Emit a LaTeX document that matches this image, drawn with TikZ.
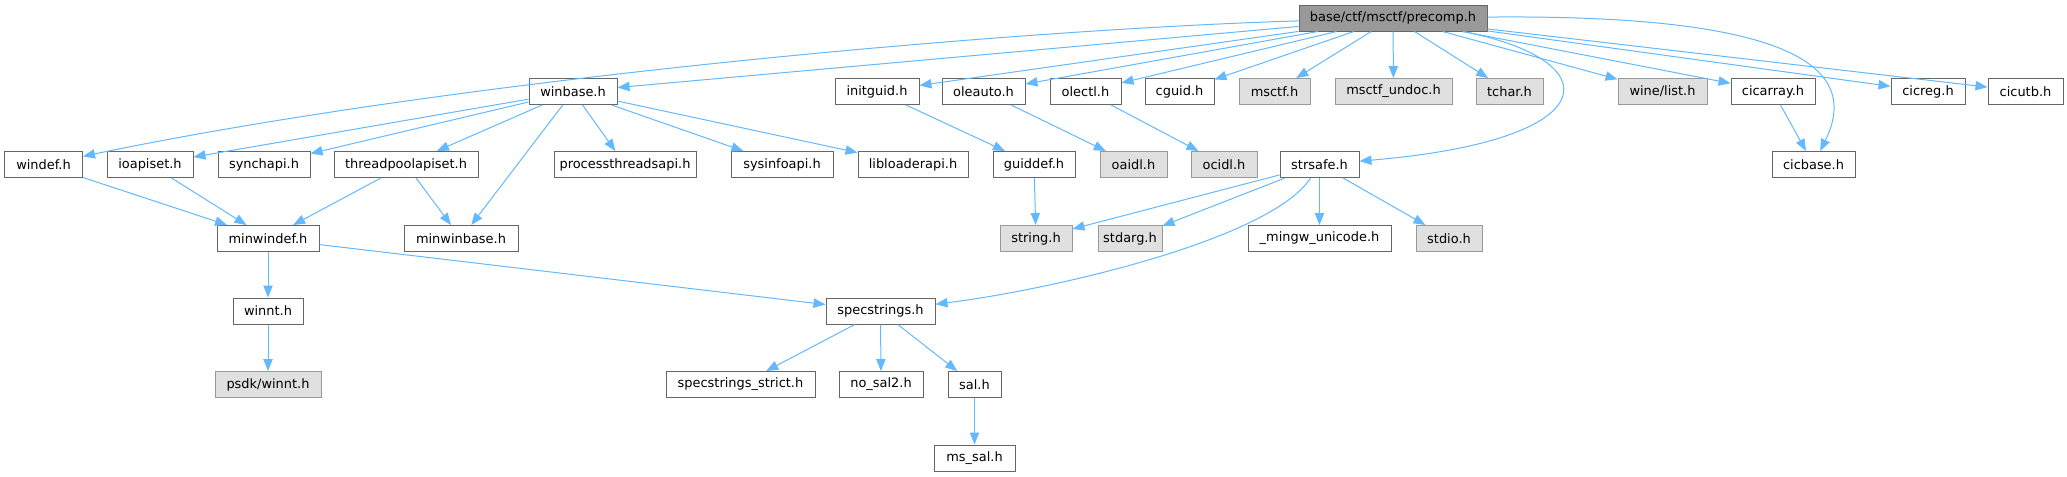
\documentclass[tikz,border=0pt]{standalone}
\usepackage{fontspec}
\setmainfont{DejaVu Sans}
\usepackage{tikz}
\usetikzlibrary{arrows.meta}

\definecolor{hborder}{HTML}{666666}
\definecolor{hextborder}{HTML}{999999}
\definecolor{hextfill}{HTML}{E0E0E0}
\definecolor{hrootfill}{HTML}{999999}
\definecolor{hedge}{HTML}{63B8FF}

\begin{document}
\begin{tikzpicture}[x=0.75pt, y=-0.75pt,
	hfile/.style={draw=hborder, fill=white, line width=0.75pt, minimum height=19.5pt, inner xsep=0pt, font=\fontsize{9.7}{11}\selectfont},
	hext/.style={hfile, draw=hextborder, fill=hextfill},
	hroot/.style={hfile, fill=hrootfill},
	dep/.style={draw=hedge, line width=0.75pt, -{Triangle[length=9pt,width=7pt]}}]
% Row heights (pixels of the reference)
\pgfmathsetmacro{\ya}{18}
\pgfmathsetmacro{\yb}{91.5}
\pgfmathsetmacro{\yc}{164.5}
\pgfmathsetmacro{\yd}{238.5}
\pgfmathsetmacro{\ye}{311}
\pgfmathsetmacro{\yf}{384.5}
\pgfmathsetmacro{\yg}{458}

\useasboundingbox (0,0) rectangle (2067,476);

% Root file
\node[hroot, minimum width=141pt] (root) at (1393,\ya) {base/ctf/msctf/precomp.h};

% Direct includes
\node[hfile, minimum width=66pt] (winbase) at (573,\yb) {winbase.h};
\node[hfile, minimum width=63pt] (initguid) at (877,\yb) {initguid.h};
\node[hfile, minimum width=62.25pt] (oleauto) at (983.5,\yb) {oleauto.h};
\node[hfile, minimum width=53.25pt] (olectl) at (1085.5,\yb) {olectl.h};
\node[hfile, minimum width=51.75pt] (cguid) at (1179.5,\yb) {cguid.h};
\node[hext, minimum width=53.25pt] (msctf) at (1274.5,\yb) {msctf.h};
\node[hext, minimum width=87.75pt] (msctfundoc) at (1393.5,\yb) {msctf\_undoc.h};
\node[hext, minimum width=50.25pt] (tchar) at (1509.5,\yb) {tchar.h};
\node[hext, minimum width=66.75pt] (winelist) at (1662.5,\yb) {wine/list.h};
\node[hfile, minimum width=63pt] (cicarray) at (1773,\yb) {cicarray.h};
\node[hfile, minimum width=55.5pt] (cicreg) at (1928,\yb) {cicreg.h};
\node[hfile, minimum width=56.25pt] (cicutb) at (2025.5,\yb) {cicutb.h};

% Second level
\node[hfile, minimum width=58.5pt] (windef) at (43.5,\yc) {windef.h};
\node[hfile, minimum width=64.5pt] (ioapiset) at (150,\yc) {ioapiset.h};
\node[hfile, minimum width=69pt] (synchapi) at (264,\yc) {synchapi.h};
\node[hfile, minimum width=108pt] (tpool) at (406,\yc) {threadpoolapiset.h};
\node[hfile, minimum width=106.5pt] (pthreads) at (625,\yc) {processthreadsapi.h};
\node[hfile, minimum width=76.5pt] (sysinfo) at (782,\yc) {sysinfoapi.h};
\node[hfile, minimum width=82.5pt] (libloader) at (913,\yc) {libloaderapi.h};
\node[hfile, minimum width=61.5pt] (guiddef) at (1034,\yc) {guiddef.h};
\node[hext, minimum width=50.25pt] (oaidl) at (1133.5,\yc) {oaidl.h};
\node[hext, minimum width=49.5pt] (ocidl) at (1224,\yc) {ocidl.h};
\node[hfile, minimum width=59.25pt] (strsafe) at (1319.5,\yc) {strsafe.h};
\node[hfile, minimum width=62.25pt] (cicbase) at (1813.5,\yc) {cicbase.h};

% Third level
\node[hfile, minimum width=76.5pt] (minwindef) at (268,\yd) {minwindef.h};
\node[hfile, minimum width=85.5pt] (minwinbase) at (461,\yd) {minwinbase.h};
\node[hext, minimum width=54pt] (stringh) at (1036,\yd) {string.h};
\node[hext, minimum width=48pt] (stdarg) at (1130,\yd) {stdarg.h};
\node[hfile, minimum width=107.25pt] (mingwuni) at (1319.5,\yd) {\_mingw\_unicode.h};
\node[hext, minimum width=49.5pt] (stdio) at (1449,\yd) {stdio.h};

% Lower levels
\node[hfile, minimum width=52.5pt] (winnt) at (268,\ye) {winnt.h};
\node[hfile, minimum width=81.75pt] (specstr) at (880.5,\ye) {specstrings.h};
\node[hext, minimum width=79.5pt] (psdkwinnt) at (268,\yf) {psdk/winnt.h};
\node[hfile, minimum width=111.75pt] (specstrict) at (740.5,\yf) {specstrings\_strict.h};
\node[hfile, minimum width=63pt] (nosal) at (881,\yf) {no\_sal2.h};
\node[hfile, minimum width=39.75pt] (sal) at (974.5,\yf) {sal.h};
\node[hfile, minimum width=60.75pt] (mssal) at (974.5,\yg) {ms\_sal.h};

% Edges out of the root
\foreach \t in {winbase, initguid, oleauto, olectl, cguid, msctf, msctfundoc, tchar, winelist, cicarray, cicreg, cicutb}
	\draw[dep] (root) -- (\t);
\draw[dep] (root) .. controls (1000,30) and (450,80) .. (windef);
\draw[dep] (root) .. controls (1610,60) and (1610,140) .. (strsafe);
\draw[dep] (root) .. controls (1800,14) and (1860,70) .. (cicbase);

% winbase.h
\foreach \t in {ioapiset, synchapi, tpool, pthreads, minwinbase, sysinfo, libloader}
	\draw[dep] (winbase) -- (\t);

% minwindef.h and friends
\draw[dep] (windef) -- (minwindef);
\draw[dep] (ioapiset) -- (minwindef);
\draw[dep] (tpool) -- (minwindef);
\draw[dep] (tpool) -- (minwinbase);
\draw[dep] (minwindef) -- (winnt);
\draw[dep] (minwindef) -- (specstr);
\draw[dep] (winnt) -- (psdkwinnt);

% guids and ole
\draw[dep] (initguid) -- (guiddef);
\draw[dep] (guiddef) -- (stringh);
\draw[dep] (oleauto) -- (oaidl);
\draw[dep] (olectl) -- (ocidl);

% strsafe.h
\foreach \t in {stringh, stdarg, mingwuni, stdio}
	\draw[dep] (strsafe) -- (\t);
\draw[dep] (strsafe) .. controls (1270,240) and (1050,290) .. (specstr);

% specstrings.h
\foreach \t in {specstrict, nosal, sal}
	\draw[dep] (specstr) -- (\t);
\draw[dep] (sal) -- (mssal);

\draw[dep] (cicarray) -- (cicbase);

\end{tikzpicture}
\end{document}
